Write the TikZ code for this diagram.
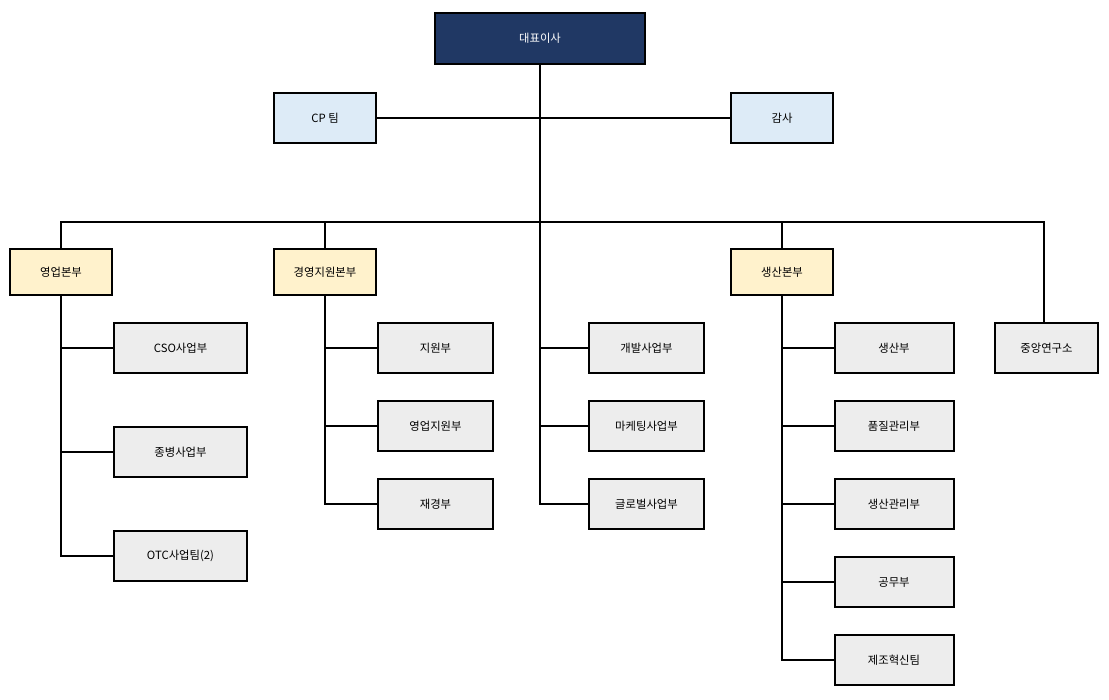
\documentclass[tikz,border=0pt]{standalone}
\usepackage{fontspec}
\setmainfont{Noto Sans CJK KR}
\usepackage{xcolor}
\usepackage{tikz}

\definecolor{navy}{HTML}{203864}
\definecolor{paleblue}{HTML}{DDEBF7}
\definecolor{paleyellow}{HTML}{FFF2CC}
\definecolor{palegray}{HTML}{EDEDED}

\tikzset{
	box/.style={draw=black, line width=1.5pt, inner sep=0pt, font=\fontsize{8.5}{10}\selectfont},
	ceobox/.style={box, fill=navy, text=white, minimum width=157.5pt, minimum height=38.25pt},
	staffbox/.style={box, fill=paleblue, minimum width=76.5pt, minimum height=37.5pt},
	divbox/.style={box, fill=paleyellow, minimum width=76.5pt, minimum height=34.5pt},
	teambox/.style={box, fill=palegray, minimum height=37.5pt},
	link/.style={line width=1.5pt}
}

\begin{document}
\begin{tikzpicture}[x=0.75pt, y=-0.75pt]
\useasboundingbox (0,0) rectangle (1109,699);

% top
\node[ceobox] (ceo) at (540,38.5) {대표이사};
\node[staffbox] (cp) at (325,118) {CP 팀};
\node[staffbox] (audit) at (782,118) {감사};

% divisions
\node[divbox] (sales) at (61,272) {영업본부};
\node[divbox] (mgmt) at (325,272) {경영지원본부};
\node[divbox] (prod) at (782,272) {생산본부};
\node[teambox, minimum width=77.25pt] (lab) at (1046.5,348) {중앙연구소};

% sales teams
\node[teambox, minimum width=99.75pt] (cso) at (180.5,348) {CSO사업부};
\node[teambox, minimum width=99.75pt] (hosp) at (180.5,452) {종병사업부};
\node[teambox, minimum width=99.75pt] (otc) at (180.5,556) {OTC사업팀(2)};

% support teams
\node[teambox, minimum width=86.25pt] (supp) at (435.5,348) {지원부};
\node[teambox, minimum width=86.25pt] (ssupp) at (435.5,426) {영업지원부};
\node[teambox, minimum width=86.25pt] (fin) at (435.5,504) {재경부};

% direct teams
\node[teambox, minimum width=86.25pt] (dev) at (646.5,348) {개발사업부};
\node[teambox, minimum width=86.25pt] (mkt) at (646.5,426) {마케팅사업부};
\node[teambox, minimum width=86.25pt] (glob) at (646.5,504) {글로벌사업부};

% production teams
\node[teambox, minimum width=89.25pt] (mfg) at (894,348) {생산부};
\node[teambox, minimum width=89.25pt] (qm) at (894,426) {품질관리부};
\node[teambox, minimum width=89.25pt] (pm) at (894,504) {생산관리부};
\node[teambox, minimum width=89.25pt] (eng) at (894,582) {공무부};
\node[teambox, minimum width=89.25pt] (inno) at (894,660) {제조혁신팀};

% connectors
\coordinate (bus) at (540,221.5);
\draw[link] (cp.east) -- (audit.west);
\draw[link] (ceo.south) |- (glob.west);
\draw[link] (sales.north) |- (bus) -| ([xshift=-2.25pt]lab.north);
\draw[link] (mgmt.north) -- (mgmt.north |- bus);
\draw[link] (prod.north) -- (prod.north |- bus);

\draw[link] (sales.south) |- (otc.west);
\foreach \t in {cso,hosp}
	\draw[link] (\t.west) -- (\t.west -| sales.south);

\draw[link] (mgmt.south) |- (fin.west);
\foreach \t in {supp,ssupp}
	\draw[link] (\t.west) -- (\t.west -| mgmt.south);

\foreach \t in {dev,mkt}
	\draw[link] (\t.west) -- (\t.west -| ceo.south);

\draw[link] (prod.south) |- (inno.west);
\foreach \t in {mfg,qm,pm,eng}
	\draw[link] (\t.west) -- (\t.west -| prod.south);

\end{tikzpicture}
\end{document}
